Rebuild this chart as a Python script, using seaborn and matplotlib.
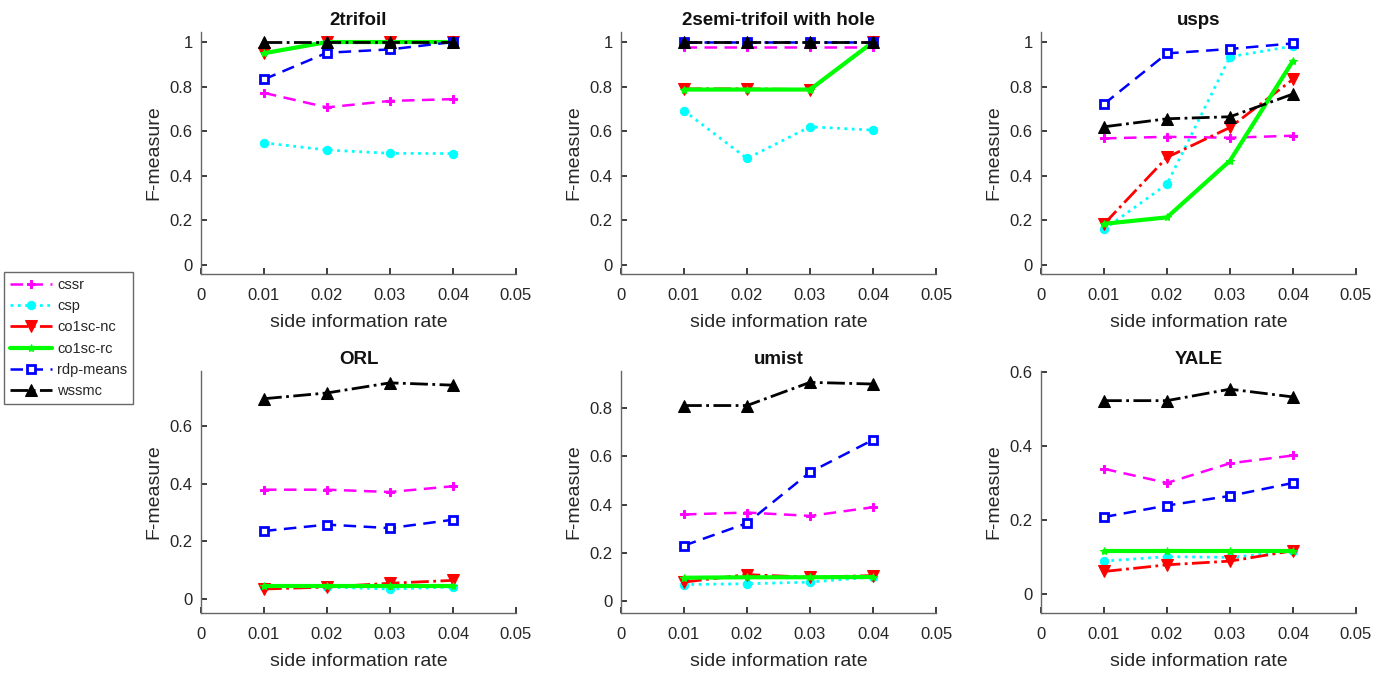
import matplotlib
matplotlib.use('Agg')
import matplotlib.pyplot as plt
import numpy as np
import pandas as pd
import seaborn as sns

RATES = [0.01, 0.02, 0.03, 0.04]
METHODS = ['cssr', 'csp', 'co1sc-nc', 'co1sc-rc', 'rdp-means', 'wssmc']
PANELS = ['2trifoil', '2semi-trifoil with hole', 'usps', 'ORL', 'umist', 'YALE']

# F-measure per panel, one list per method (order as METHODS)
trifoil = [
    [0.772, 0.707, 0.736, 0.744],
    [0.548, 0.516, 0.501, 0.500],
    [0.950, 1.000, 1.000, 1.000],
    [0.950, 1.000, 1.000, 1.000],
    [0.833, 0.952, 0.967, 1.000],
    [1.000, 1.000, 1.000, 1.000],
]
semi_trifoil = [
    [0.977, 0.977, 0.977, 0.977],
    [0.692, 0.478, 0.620, 0.605],
    [0.790, 0.790, 0.787, 1.000],
    [0.787, 0.787, 0.787, 1.000],
    [1.000, 1.000, 1.000, 1.000],
    [1.000, 1.000, 1.000, 1.000],
]
usps = [
    [0.568, 0.575, 0.571, 0.580],
    [0.160, 0.363, 0.934, 0.982],
    [0.184, 0.483, 0.617, 0.833],
    [0.185, 0.214, 0.468, 0.916],
    [0.722, 0.949, 0.969, 0.994],
    [0.620, 0.656, 0.665, 0.767],
]
orl = [
    [0.379, 0.379, 0.371, 0.391],
    [0.042, 0.042, 0.035, 0.042],
    [0.035, 0.042, 0.055, 0.065],
    [0.044, 0.044, 0.044, 0.044],
    [0.236, 0.258, 0.246, 0.275],
    [0.694, 0.714, 0.749, 0.741],
]
umist = [
    [0.359, 0.367, 0.353, 0.389],
    [0.069, 0.072, 0.079, 0.100],
    [0.079, 0.110, 0.099, 0.106],
    [0.097, 0.099, 0.099, 0.100],
    [0.230, 0.323, 0.534, 0.668],
    [0.810, 0.810, 0.906, 0.899],
]
yale = [
    [0.338, 0.300, 0.353, 0.374],
    [0.089, 0.101, 0.099, 0.115],
    [0.061, 0.079, 0.089, 0.117],
    [0.115, 0.115, 0.115, 0.115],
    [0.208, 0.239, 0.265, 0.300],
    [0.522, 0.522, 0.553, 0.532],
]
PANEL_DATA = [trifoil, semi_trifoil, usps, orl, umist, yale]

YTICKS = [
    [0, 0.2, 0.4, 0.6, 0.8, 1], [0, 0.2, 0.4, 0.6, 0.8, 1], [0, 0.2, 0.4, 0.6, 0.8, 1],
    [0, 0.2, 0.4, 0.6], [0, 0.2, 0.4, 0.6, 0.8], [0, 0.2, 0.4, 0.6],
]
YLIMS = [(-0.04, 1.045), (-0.04, 1.045), (-0.04, 1.045), (-0.048, 0.79), (-0.049, 0.953), (-0.051, 0.602)]
XTICKS = [0, 0.01, 0.02, 0.03, 0.04, 0.05]
XTICKLABELS = ['0', '0.01', '0.02', '0.03', '0.04', '0.05']

STYLES = {
    'cssr': dict(color='#ff00ff', linestyle=(0, (5, 3)), marker='P', markersize=6, linewidth=1.8),
    'csp': dict(color='#00ffff', linestyle=':', marker='o', markersize=6, linewidth=2),
    'co1sc-nc': dict(color='#ff0000', linestyle='-.', marker='v', markersize=9, linewidth=2),
    'co1sc-rc': dict(color='#00ff00', linestyle='-', marker='*', markersize=6, linewidth=3),
    'rdp-means': dict(color='#0000ff', linestyle=(0, (5, 3)), marker='s', markersize=6,
                      markerfacecolor='white', markeredgewidth=2, linewidth=1.8),
    'wssmc': dict(color='#000000', linestyle='-.', marker='^', markersize=9, linewidth=2),
}

sns.set_theme(style='ticks')
plt.rcParams['font.family'] = ['Liberation Sans', 'DejaVu Sans']

fig = plt.figure(figsize=(13.95, 6.74), dpi=100)
lefts = [201 / 1395, 621 / 1395, 1041 / 1395]
bottoms = [1 - 274 / 674, 1 - 613 / 674]
width = 315 / 1395
height = 242 / 674

for i, (name, data) in enumerate(zip(PANELS, PANEL_DATA)):
    ax = fig.add_axes([lefts[i % 3], bottoms[i // 3], width, height])
    for method, values in zip(METHODS, data):
        df = pd.DataFrame({'rate': RATES, 'F-measure': values})
        style = STYLES[method]
        sns.lineplot(data=df, x='rate', y='F-measure', ax=ax, label=method,
                     legend=False, markeredgecolor=style['color'], **style)
    ax.set_xlim(0, 0.05)
    ax.set_ylim(*YLIMS[i])
    ax.set_xticks(XTICKS)
    ax.set_xticklabels(XTICKLABELS)
    ax.set_yticks(YTICKS[i])
    ax.set_yticklabels([f'{t:g}' for t in YTICKS[i]])
    ax.set_title(name, fontsize=13.5, fontweight='bold', pad=5, color='#111111')
    ax.set_xlabel('side information rate', fontsize=14, labelpad=8, color='#262626')
    ax.set_ylabel('F-measure', fontsize=14, labelpad=5, color='#262626')
    ax.tick_params(direction='in', length=4, labelsize=12, colors='#262626')
    ax.tick_params(axis='x', pad=10)
    ax.tick_params(axis='y', pad=6)
    sns.despine(ax=ax)
    for side in ['left', 'bottom']:
        ax.spines[side].set_color('#666666')
        ax.spines[side].set_linewidth(1)
    if i == 0:
        handles, labels = ax.get_legend_handles_labels()

fig.legend(handles, labels, loc='upper left', bbox_to_anchor=(4 / 1395, 1 - 272 / 674),
           fontsize=10.5, frameon=True, fancybox=False, edgecolor='#444444',
           handlelength=2.9, borderpad=0.4, labelspacing=0.5, handletextpad=0.35,
           borderaxespad=0)

fig.savefig('out.png', dpi=100)
